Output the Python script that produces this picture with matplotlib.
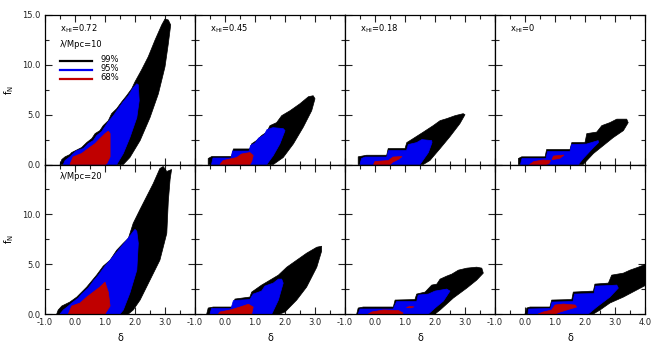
import matplotlib
matplotlib.use("Agg")
import matplotlib.pyplot as plt
from matplotlib.ticker import MultipleLocator

# panel labels
xhi_labels = ["0.72", "0.45", "0.18", "0"]
lam_labels = ["10", "20"]
levels = ["99%", "95%", "68%"]
colors = ["black", "#0000f0", "#c00000"]

# contour outlines (delta, f_N)
# top row: lambda = 10 Mpc
t1_black = [(-0.5, 0), (-0.44, 0.5), (-0.33, 0.77), (-0.17, 1.0), (-0.11, 1.2), (0.22, 1.7), (0.39, 2.2),
            (0.56, 2.6), (0.67, 3.1), (0.83, 3.4), (0.94, 3.9), (1.11, 4.4), (1.22, 5.1), (1.39, 5.6),
            (1.56, 6.3), (1.72, 6.9), (1.89, 7.6), (2.0, 8.3), (2.22, 9.5), (2.44, 10.8), (2.67, 12.5),
            (2.89, 14.0), (3.0, 14.6), (3.11, 14.5), (3.19, 14.0), (3.11, 12.1), (3.0, 9.8), (2.78, 7.1),
            (2.5, 4.7), (2.17, 2.4), (1.83, 0.7), (1.61, 0)]
t1_blue = [(-0.39, 0), (-0.33, 0.4), (-0.17, 0.77), (-0.06, 1.1), (0.06, 1.4), (0.28, 1.6), (0.44, 2.1),
           (0.61, 2.4), (0.72, 2.9), (0.89, 3.3), (1.0, 3.8), (1.11, 4.3), (1.28, 4.9), (1.44, 5.6),
           (1.61, 6.3), (1.78, 6.9), (1.94, 7.7), (2.06, 8.1), (2.11, 8.0), (2.14, 6.4), (2.06, 4.7),
           (1.83, 2.7), (1.61, 1.1), (1.39, 0)]
t1_red = [[(-0.17, 0), (-0.06, 0.77), (0.22, 1.1), (0.44, 1.6), (0.67, 2.1), (0.83, 2.6), (1.0, 3.1),
           (1.11, 3.35), (1.17, 3.1), (1.17, 0.77), (1.06, 0.1), (1.0, 0)]]

t2_black = [(-0.56, 0), (-0.56, 0.6), (-0.44, 0.8), (0.22, 0.8), (0.28, 1.56), (0.83, 1.56), (0.89, 2.07),
            (1.05, 2.4), (1.22, 2.9), (1.39, 3.25), (1.5, 3.9), (1.72, 4.2), (1.89, 4.9), (2.17, 5.4),
            (2.5, 6.1), (2.78, 6.8), (2.94, 6.9), (3.0, 6.6), (2.89, 5.4), (2.61, 3.75), (2.28, 2.07),
            (1.94, 0.7), (1.61, 0)]
t2_blue = [(-0.45, 0), (-0.4, 0.65), (0.2, 0.65), (0.25, 1.35), (0.8, 1.35), (0.85, 1.9), (1.0, 2.15),
           (1.12, 2.65), (1.3, 2.95), (1.4, 3.5), (1.6, 3.7), (1.94, 3.6), (2.0, 3.4), (1.83, 2.07),
           (1.61, 0.9), (1.39, 0)]
t2_red = [[(-0.17, 0), (-0.06, 0.4), (0.39, 0.7), (0.55, 1.05), (0.83, 1.2), (0.94, 0.9), (0.89, 0.3),
           (0.83, 0)]]

t3_black = [(-0.56, 0), (-0.56, 0.77), (-0.28, 0.93), (0.39, 0.93), (0.44, 1.6), (1.0, 1.6), (1.06, 2.2),
            (1.22, 2.5), (1.61, 3.25), (1.94, 3.9), (2.17, 4.4), (2.39, 4.6), (2.67, 4.9), (2.94, 5.1),
            (3.0, 5.0), (2.83, 4.1), (2.5, 2.8), (2.17, 1.6), (1.83, 0.4), (1.61, 0)]
t3_blue = [(-0.5, 0), (-0.45, 0.6), (-0.33, 0.75), (0.39, 0.75), (0.45, 1.4), (1.05, 1.4), (1.11, 2.0),
           (1.39, 2.2), (1.56, 2.5), (1.89, 2.4), (1.9, 2.2), (1.78, 1.2), (1.5, 0)]
t3_red = [[(-0.05, 0), (0.0, 0.3), (0.45, 0.4), (0.6, 0.75), (0.9, 0.8), (0.8, 0.55), (0.6, 0.25),
           (0.5, 0)]]

t4_black = [(-0.22, 0), (-0.22, 0.6), (-0.11, 0.77), (0.67, 0.77), (0.72, 1.5), (1.5, 1.5), (1.56, 2.2),
            (2.0, 2.2), (2.06, 3.1), (2.39, 3.25), (2.56, 3.9), (2.83, 4.2), (3.06, 4.55), (3.39, 4.55),
            (3.44, 4.2), (3.28, 3.4), (2.94, 2.7), (2.61, 1.9), (2.28, 1.1), (1.94, 0)]
t4_blue = [(-0.15, 0), (-0.1, 0.6), (0.7, 0.6), (0.75, 1.3), (1.5, 1.3), (1.55, 2.0), (2.05, 2.05),
           (2.44, 2.4), (2.45, 2.2), (2.28, 1.7), (1.94, 0.6), (1.78, 0)]
t4_red = [[(0.15, 0), (0.3, 0.3), (0.6, 0.45), (0.85, 0.4), (0.8, 0.1), (0.7, 0)],
          [(0.9, 0.5), (0.95, 0.85), (1.3, 0.95), (1.15, 0.6)]]

# bottom row: lambda = 20 Mpc
b1_black = [(-0.61, 0), (-0.56, 0.4), (-0.44, 0.8), (-0.17, 1.2), (0.06, 1.7), (0.39, 2.7), (0.72, 3.9),
            (0.94, 4.8), (1.17, 5.4), (1.39, 6.4), (1.61, 7.1), (1.78, 7.6), (1.94, 9.1), (2.17, 10.5),
            (2.39, 11.8), (2.61, 13.1), (2.83, 14.6), (2.94, 14.8), (3.06, 14.3), (3.22, 14.5),
            (3.17, 13.5), (3.11, 11.3), (3.06, 8.1), (2.83, 5.4), (2.5, 3.4), (2.17, 1.4), (1.94, 0.4),
            (1.78, 0)]
b1_blue = [(-0.5, 0), (-0.39, 0.4), (-0.22, 0.8), (-0.11, 1.1), (0.11, 1.6), (0.22, 2.0), (0.44, 2.6),
           (0.61, 3.3), (0.78, 3.9), (1.0, 4.8), (1.28, 5.8), (1.5, 6.6), (1.72, 7.4), (2.0, 8.5),
           (2.06, 8.3), (2.11, 7.1), (2.06, 4.4), (1.83, 2.1), (1.61, 0.4), (1.5, 0)]
b1_red = [[(-0.22, 0), (-0.11, 0.8), (0.17, 1.1), (0.39, 1.7), (0.61, 2.2), (0.83, 2.7), (1.0, 3.2),
           (1.11, 2.2), (1.17, 0.8), (1.0, 0)]]

b2_black = [(-0.61, 0), (-0.56, 0.6), (-0.39, 0.7), (0.28, 0.7), (0.33, 1.5), (0.83, 1.7), (0.89, 2.2),
            (1.22, 2.9), (1.39, 3.2), (1.78, 3.9), (2.06, 4.7), (2.39, 5.4), (2.72, 6.1), (3.06, 6.7),
            (3.22, 6.8), (3.22, 6.3), (3.06, 4.7), (2.72, 2.7), (2.39, 1.4), (2.0, 0.2), (1.83, 0)]
b2_blue = [(-0.5, 0), (-0.45, 0.55), (0.2, 0.55), (0.28, 1.35), (0.83, 1.45), (0.94, 2.0), (1.22, 2.3),
           (1.33, 2.8), (1.61, 3.1), (1.78, 3.5), (1.89, 3.5), (1.94, 3.1), (1.78, 1.4), (1.56, 0)]
b2_red = [[(-0.22, 0), (-0.17, 0.2), (0.17, 0.4), (0.5, 0.7), (0.78, 0.98), (0.94, 0.7), (0.89, 0)]]

b3_black = [(-0.61, 0), (-0.56, 0.6), (-0.39, 0.7), (0.61, 0.7), (0.67, 1.4), (1.33, 1.45), (1.39, 2.0),
            (1.67, 2.2), (1.89, 2.9), (2.06, 3.0), (2.17, 3.5), (2.39, 3.8), (2.56, 4.0), (2.78, 4.4),
            (3.06, 4.6), (3.39, 4.7), (3.56, 4.6), (3.61, 4.1), (3.39, 3.4), (3.06, 2.6), (2.61, 1.6),
            (2.17, 0.4), (2.0, 0)]
b3_blue = [(-0.56, 0), (-0.5, 0.5), (0.61, 0.5), (0.72, 1.25), (1.39, 1.25), (1.44, 1.9), (1.78, 2.0),
           (2.0, 2.3), (2.39, 2.5), (2.5, 2.3), (2.28, 1.3), (2.0, 0.6), (1.78, 0)]
b3_red = [[(-0.22, 0), (-0.11, 0.2), (0.28, 0.4), (0.78, 0.35), (0.94, 0.1), (0.9, 0)],
          [(1.05, 0.65), (1.15, 0.75), (1.3, 0.72), (1.2, 0.62)]]

b4_black = [(0.0, 0), (0.06, 0.6), (0.17, 0.7), (0.83, 0.7), (0.89, 1.4), (1.56, 1.45), (1.61, 2.2),
            (2.28, 2.3), (2.33, 3.0), (2.78, 3.1), (2.89, 3.9), (3.28, 4.1), (3.5, 4.4), (3.78, 4.7),
            (4.1, 5.1), (4.1, 3.0), (3.72, 2.4), (3.28, 1.7), (2.83, 1.1), (2.5, 0.4), (2.28, 0)]
b4_blue = [(0.1, 0), (0.12, 0.5), (0.85, 0.55), (0.9, 1.2), (1.6, 1.25), (1.65, 2.0), (2.3, 2.05),
           (2.35, 2.8), (2.78, 2.85), (3.06, 2.9), (3.11, 2.6), (2.83, 1.7), (2.39, 0.7), (2.11, 0)]
b4_red = [[(0.44, 0), (0.61, 0.2), (0.89, 0.4), (1.0, 0.9), (1.28, 1.0), (1.67, 0.9), (1.72, 0.7),
           (1.5, 0.5), (1.17, 0.2), (1.0, 0)]]

panels = [[(t1_black, t1_blue, t1_red), (t2_black, t2_blue, t2_red),
           (t3_black, t3_blue, t3_red), (t4_black, t4_blue, t4_red)],
          [(b1_black, b1_blue, b1_red), (b2_black, b2_blue, b2_red),
           (b3_black, b3_blue, b3_red), (b4_black, b4_blue, b4_red)]]

plt.rcParams['font.family'] = ['DejaVu Sans']
plt.rcParams['font.size'] = 6

fig, axes = plt.subplots(2, 4, figsize=(6.61, 3.61), dpi=100)
fig.subplots_adjust(left=45 / 661, right=645 / 661, bottom=1 - 314 / 361, top=1 - 15 / 361,
                    wspace=0, hspace=0)


def poly(ax, pts, color):
    xs = [p[0] for p in pts]
    ys = [p[1] for p in pts]
    ax.fill(xs, ys, color=color, lw=0.5, zorder=2)


for r in range(2):
    for c in range(4):
        ax = axes[r, c]
        black, blue, red = panels[r][c]
        poly(ax, black, colors[0])
        poly(ax, blue, colors[1])
        for piece in red:
            poly(ax, piece, colors[2])

        ax.set_xlim(-1, 4)
        ax.set_ylim(0, 15)
        ax.xaxis.set_minor_locator(MultipleLocator(0.5))
        ax.yaxis.set_minor_locator(MultipleLocator(2.5))
        ax.tick_params(which='both', direction='in', top=True, right=True, width=0.8,
                       labelsize=6, pad=3, colors='#222222')
        ax.tick_params(which='major', length=5)
        ax.tick_params(which='minor', length=3)
        for s in ax.spines.values():
            s.set_linewidth(0.9)

        # x tick labels only on the bottom row; 4.0 only in the last panel
        xt = [-1, 0, 1, 2, 3, 4]
        ax.set_xticks(xt)
        if r == 1:
            shown = xt if c == 3 else xt[:-1]
            ax.set_xticklabels(["%.1f" % v if v in shown else "" for v in xt])
            ax.set_xlabel("δ", fontsize=7, labelpad=4)
        else:
            ax.set_xticklabels([])

        # y tick labels only in the first column; 15.0 only in the top row
        yt = [0, 5, 10, 15]
        ax.set_yticks(yt)
        if c == 0:
            shown = yt if r == 0 else yt[:-1]
            ax.set_yticklabels(["%.1f" % v if v in shown else "" for v in yt])
            ax.set_ylabel("f$_\\mathregular{N}$", fontsize=7, labelpad=5)
        else:
            ax.set_yticklabels([])

        if r == 0:
            ax.text(0.1, 0.91, "x$_\\mathregular{HI}$=" + xhi_labels[c], transform=ax.transAxes,
                    fontsize=6, va='center', ha='left')

axes[0, 0].text(0.1, 0.8, "λ/Mpc=" + lam_labels[0], transform=axes[0, 0].transAxes,
                fontsize=6, va='center', ha='left')
axes[1, 0].text(0.1, 0.92, "λ/Mpc=" + lam_labels[1], transform=axes[1, 0].transAxes,
                fontsize=6, va='center', ha='left')

# legend
for i, (lab, col) in enumerate(zip(levels, colors)):
    yy = 0.695 - i * 0.06
    axes[0, 0].plot([0.1, 0.31], [yy, yy], color=col, lw=1.6, transform=axes[0, 0].transAxes)
    axes[0, 0].text(0.37, yy + 0.008, lab, transform=axes[0, 0].transAxes, fontsize=6,
                    va='center', ha='left')

fig.savefig("out.png", dpi=100)
